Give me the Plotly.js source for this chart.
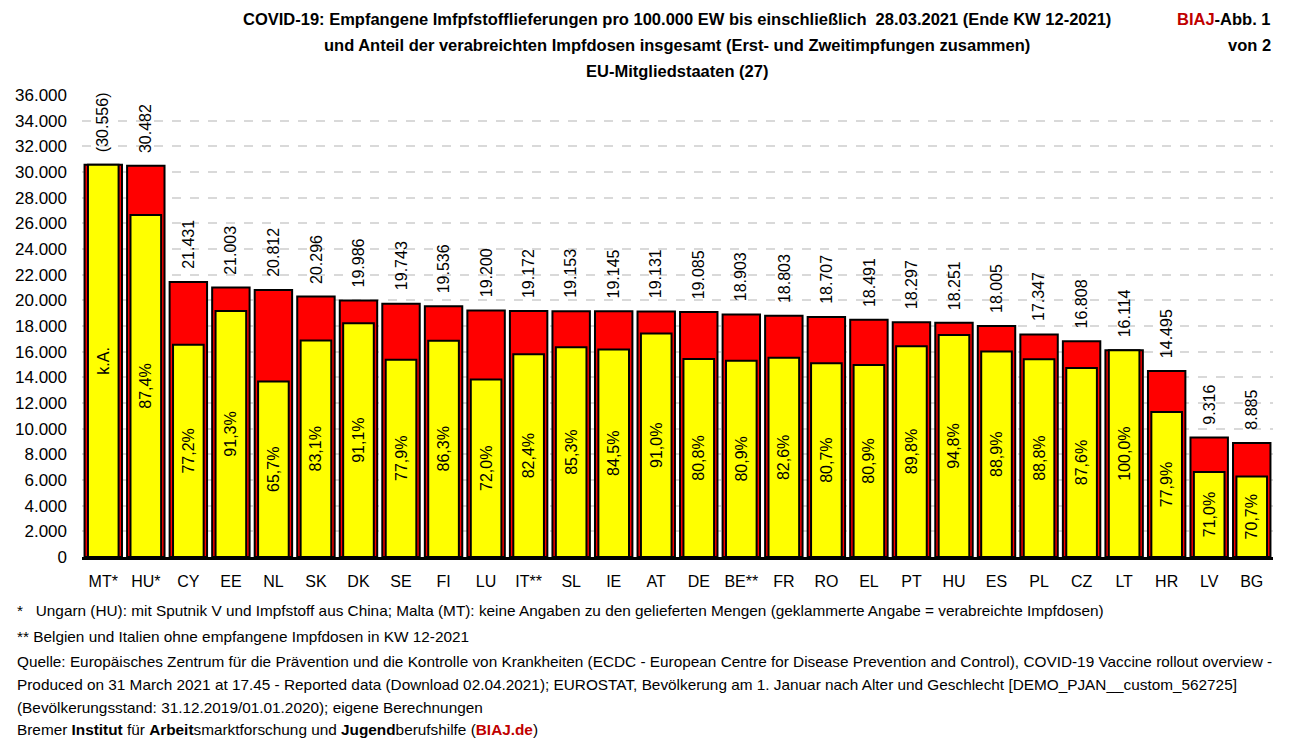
<!DOCTYPE html>
<html>
<head>
<meta charset="utf-8">
<script src="https://cdn.plot.ly/plotly-3.0.1.min.js"></script>
<style>html,body{margin:0;padding:0;background:#fff;}#chart{width:1289px;height:746px;}</style>
</head>
<body>
<div id="chart"></div>
<script>
const countries = ["MT*","HU*","CY","EE","NL","SK","DK","SE","FI","LU","IT**","SL","IE","AT","DE","BE**","FR","RO","EL","PT","HU","ES","PL","CZ","LT","HR","LV","BG"];
const delivered = [30556,30482,21431,21003,20812,20296,19986,19743,19536,19200,19172,19153,19145,19131,19085,18903,18803,18707,18491,18297,18251,18005,17347,16808,16114,14495,9316,8885];
const sharePct = [null,87.4,77.2,91.3,65.7,83.1,91.1,77.9,86.3,72.0,82.4,85.3,84.5,91.0,80.8,80.9,82.6,80.7,80.9,89.8,94.8,88.9,88.8,87.6,100.0,77.9,71.0,70.7];
const yTicks = [0,2000,4000,6000,8000,10000,12000,14000,16000,18000,20000,22000,24000,26000,28000,30000,32000,34000,36000];

// administered doses: delivered * share (Malta: administered doses given in brackets)
const administered = delivered.map((d,i)=> sharePct[i]===null ? d : d*sharePct[i]/100);
const shareText = sharePct.map(p => p===null ? 'k.A.' : p.toFixed(1).replace('.',',')+'%');
const fmt = v => String(Math.round(v)).replace(/\B(?=(\d{3})+(?!\d))/g,'.');
const deliveredText = delivered.map((d,i)=> sharePct[i]===null ? '('+fmt(d)+')' : fmt(d));

const FONT = 'Liberation Sans, Arial, sans-serif';

const traces = [
  {type:'bar', x:countries, y:delivered, width:0.88,
   marker:{color:'#ff0000', line:{color:'#000', width:2}}, hoverinfo:'skip'},
  {type:'bar', x:countries, y:administered, width:0.72,
   marker:{color:'#ffff00', line:{color:'#000', width:2}},
   text:shareText, textposition:'inside', insidetextanchor:'middle', textangle:-90,
   constraintext:'none', textfont:{family:FONT, size:16, color:'#000'}, hoverinfo:'skip'}
];

const annotations = countries.map((c,i)=>({
  x:c, y:delivered[i], xref:'x', yref:'y', text:deliveredText[i], showarrow:false,
  textangle:-90, yanchor:'bottom', xanchor:'center', yshift:11,
  font:{family:FONT, size:16, color:'#000'}
}));

const titleLines = [
  'COVID-19: Empfangene Imfpfstofflieferungen pro 100.000 EW bis einschließlich  28.03.2021 (Ende KW 12-2021)',
  'und Anteil der verabreichten Impfdosen insgesamt (Erst- und Zweitimpfungen zusammen)',
  'EU-Mitgliedstaaten (27)'
];
titleLines.forEach((t,i)=>annotations.push({
  xref:'paper', yref:'paper', x:(677-82)/(1273-82), y:1, yshift:95-19-26*i, yanchor:'middle', xanchor:'center',
  text:'<b>'+t+'</b>', showarrow:false, font:{family:FONT, size:16.5, color:'#000'}
}));
annotations.push({xref:'paper', yref:'paper', x:1, y:1, yshift:95-19, xshift:0, xanchor:'right', yanchor:'middle',
  text:'<b><span style="color:#c00000">BIAJ</span>-Abb. 1</b>', showarrow:false, font:{family:FONT, size:16.5, color:'#000'}});
annotations.push({xref:'paper', yref:'paper', x:1, y:1, yshift:95-45, xanchor:'right', yanchor:'middle',
  text:'<b>von 2</b>', showarrow:false, font:{family:FONT, size:16.5, color:'#000'}});

const notes = [
  '*   Ungarn (HU): mit Sputnik V und Impfstoff aus China; Malta (MT): keine Angaben zu den gelieferten Mengen (geklammerte Angabe = verabreichte Impfdosen)',
  '** Belgien und Italien ohne empfangene Impfdosen in KW 12-2021',
  'Quelle: Europäisches Zentrum für die Prävention und die Kontrolle von Krankheiten (ECDC - European Centre for Disease Prevention and Control), COVID-19 Vaccine rollout overview -',
  'Produced on 31 March 2021 at 17.45 - Reported data (Download 02.04.2021); EUROSTAT, Bevölkerung am 1. Januar nach Alter und Geschlecht [DEMO_PJAN__custom_562725]',
  '(Bevölkerungsstand: 31.12.2019/01.01.2020); eigene Berechnungen',
  'Bremer <b>Institut</b> für <b>Arbeit</b>smarktforschung und <b>Jugend</b>berufshilfe (<b><span style="color:#c00000">BIAJ.de</span></b>)'
];
const noteY = [610,636,661,684,707,729];
notes.forEach((t,i)=>annotations.push({
  xref:'paper', yref:'paper', x:0, xshift:15-82, y:0, yshift:-(noteY[i]-557), xanchor:'left', yanchor:'middle',
  text:t, showarrow:false, font:{family:FONT, size:15.35, color:'#000'}
}));

const layout = {
  width:1289, height:746,
  margin:{l:82, r:16, t:95, b:189},
  paper_bgcolor:'#fff', plot_bgcolor:'#fff',
  separators:',.',
  barmode:'overlay', showlegend:false,
  font:{family:FONT, color:'#000'},
  xaxis:{type:'category', showline:true, linecolor:'#000', linewidth:3, ticks:'', showgrid:false,
         tickfont:{family:FONT, size:16, color:'#000'}, ticklabelstandoff:8,
         range:[-0.5, countries.length-0.5], fixedrange:true},
  yaxis:{range:[0,36000], tickvals:yTicks, tickformat:',.0f', showline:false, zeroline:false,
         showgrid:true, gridcolor:'#d9d9d9', gridwidth:2, griddash:'dash',
         tickfont:{family:FONT, size:17, color:'#000'}, ticklabelstandoff:14, fixedrange:true},
  annotations:annotations
};
Plotly.newPlot('chart', traces, layout, {displayModeBar:false, staticPlot:true});
</script>
</body>
</html>
